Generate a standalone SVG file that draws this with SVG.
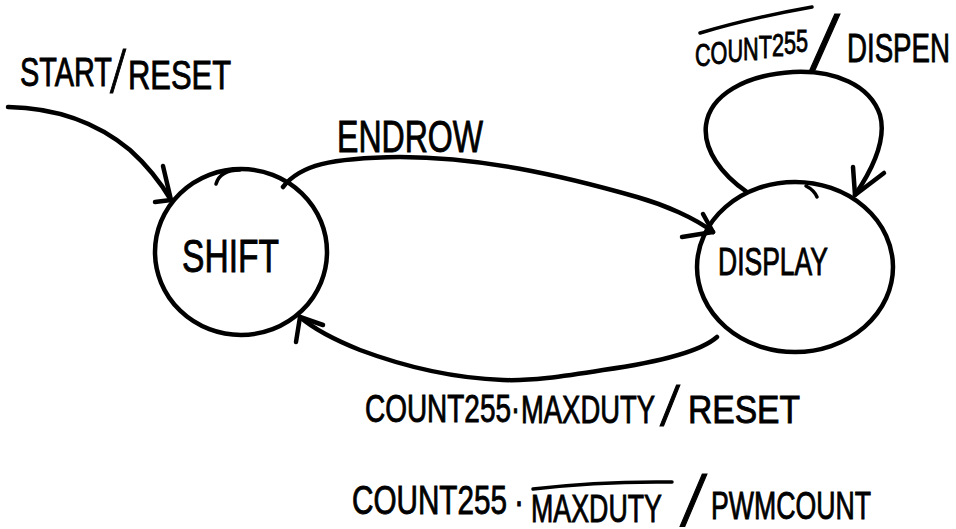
<svg xmlns="http://www.w3.org/2000/svg" width="956" height="529" viewBox="0 0 956 529">
<style>
.ln{fill:none;stroke:#000;stroke-width:4.5;stroke-linecap:round;stroke-linejoin:round}
.th{fill:none;stroke:#000;stroke-width:3.5;stroke-linecap:round}
.hw{font-family:"Liberation Sans",Arial,sans-serif;fill:#000;stroke:#000;stroke-width:0.9}
.sl{font-family:"Liberation Serif","Times New Roman",serif}
</style>
<rect x="0" y="0" width="956" height="529" fill="#fff"/>
<g id="node-shift">
<ellipse class="ln" cx="241" cy="252" rx="86" ry="83"/>
<path class="th" d="M216,184 Q220,170 240,170"/>
<text class="hw" font-size="46" x="182" y="272" textLength="97" lengthAdjust="spacingAndGlyphs">SHIFT</text>
</g>
<g id="node-display">
<ellipse class="ln" cx="795" cy="267" rx="98" ry="85"/>
<path class="th" d="M806,186 Q814,190 817,197"/>
<text class="hw" font-size="39" x="718" y="275" textLength="110" lengthAdjust="spacingAndGlyphs">DISPLAY</text>
</g>
<g id="connectors">
<path id="e-start" class="ln" d="M8,107 C60,108 100,125 130,150 C150,168 162,185 171,200"/>
<path class="ln" d="M163,166 L171,200 L155,202"/>
<path id="e-endrow" class="ln" d="M283,187 C300,165 330,158 400,157 C480,157 560,175 637,197 C665,205 695,218 713,232"/>
<path class="ln" d="M703,214 L713,232 L682,237"/>
<path id="e-reset" class="ln" d="M717,337 C700,352 660,362 603,370 C560,377 530,381 503,380 C450,378 400,365 360,350 C335,340 315,330 300,317"/>
<path class="ln" d="M323,325 L300,317 L296,342"/>
<path id="e-loop" class="ln" d="M747,192 C722,175 703,150 706,125 C710,95 745,75 793,72 C835,70 870,85 880,115 C887,140 872,170 855,195"/>
<path class="ln" d="M853,167 L855,195 L884,173"/>
</g>
<g id="labels">
<text class="hw" font-size="40"><tspan x="20" y="86" textLength="92" lengthAdjust="spacingAndGlyphs">START</tspan><tspan class="sl" x="110" y="92" font-size="66" textLength="16" lengthAdjust="spacingAndGlyphs">/</tspan><tspan x="128" y="89" textLength="103" lengthAdjust="spacingAndGlyphs">RESET</tspan></text>
<text class="hw" font-size="44" x="337" y="152" textLength="146" lengthAdjust="spacingAndGlyphs">ENDROW</text>
<path class="th" d="M700,33 Q750,18 812,7"/>
<text class="hw" font-size="31"><tspan x="695" y="66" dy="0 -2 -2 -2 -2 -2 -2 -2" textLength="113" lengthAdjust="spacingAndGlyphs">COUNT255</tspan><tspan class="sl" x="810" y="68" font-size="82" textLength="30" lengthAdjust="spacingAndGlyphs">/</tspan><tspan x="847" y="62" font-size="41" textLength="103" lengthAdjust="spacingAndGlyphs">DISPEN</tspan></text>
<text class="hw" font-size="39"><tspan x="365" y="422" textLength="146" lengthAdjust="spacingAndGlyphs">COUNT255</tspan><tspan x="511" y="422" textLength="9" lengthAdjust="spacingAndGlyphs">·</tspan><tspan x="521" y="423" textLength="134" lengthAdjust="spacingAndGlyphs">MAXDUTY</tspan><tspan class="sl" x="660" y="425" font-size="62" textLength="20" lengthAdjust="spacingAndGlyphs">/</tspan><tspan x="688" y="423" textLength="112" lengthAdjust="spacingAndGlyphs">RESET</tspan></text>
<path class="th" d="M533,489 Q600,481 672,482"/>
<text class="hw" font-size="41"><tspan x="352" y="514" textLength="155" lengthAdjust="spacingAndGlyphs">COUNT255</tspan><tspan x="514" y="515" textLength="10" lengthAdjust="spacingAndGlyphs">·</tspan><tspan x="531" y="522" font-size="39" textLength="131" lengthAdjust="spacingAndGlyphs">MAXDUTY</tspan><tspan class="sl" x="680" y="525" font-size="78" textLength="27" lengthAdjust="spacingAndGlyphs">/</tspan><tspan x="711" y="519" font-size="39" textLength="160" lengthAdjust="spacingAndGlyphs">PWMCOUNT</tspan></text>
</g>
</svg>
